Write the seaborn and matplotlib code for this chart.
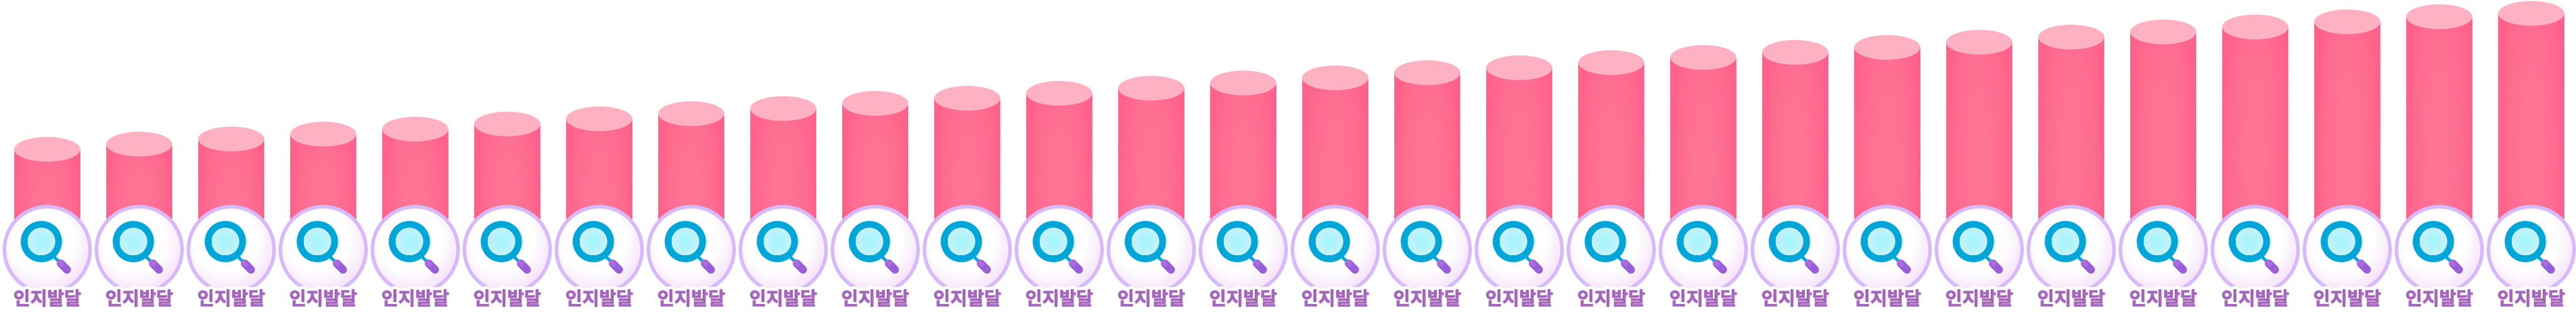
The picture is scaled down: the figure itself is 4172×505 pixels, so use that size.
import numpy as np
import pandas as pd
import matplotlib
matplotlib.use("Agg")
import matplotlib.pyplot as plt
import matplotlib.patheffects as pe
from matplotlib.patches import Ellipse
from matplotlib.colors import LinearSegmentedColormap
import seaborn as sns

# ---- data (height of each cylinder) ----
categories = [f"c{i:02d}" for i in range(28)]
tick_labels = ["인지발달"] * 28
values = [162.3, 170.7, 179.0, 187.0, 195.0, 203.3, 211.7,
          220.0, 228.3, 236.7, 245.0, 253.0, 261.3, 269.7,
          278.0, 286.3, 294.3, 302.7, 311.0, 319.3, 327.3,
          335.7, 344.0, 352.3, 360.3, 368.7, 377.0, 382.3]

# ---- colours ----
BODY_EDGE = "#FF628B"
BODY_MID = "#FF7596"
CAP = "#FFB1C4"
RING = "#D7B9FC"
ORB_IN = "#FFFFFF"
ORB_OUT = "#F8E6FB"
LENS_RING = "#00A6D8"
LENS_IN = "#A6F6FE"
LENS_OUT = "#C8F2F9"
HANDLE = "#9760D6"
HANDLE_TOP = "#AC6EDC"
TEXT = "#A566BD"

W, H = 4172, 505
BASE_PX = 404     # pixel row of value 0
PERIOD = 149.0    # pixels per category
FIRST = 76.5      # pixel column of the first category
BAR_W = 107 / PERIOD
CAP_H = 40
PXPT = 72 / 100

sns.set_style("white")
plt.rcParams["font.family"] = ["Noto Sans CJK KR", "DejaVu Sans"]

fig = plt.figure(figsize=(W / 100, H / 100), dpi=100, facecolor="white")
ax = fig.add_axes([0, 0, 1, 1])
ax.set_facecolor("white")

df = pd.DataFrame({"category": categories, "value": values})
sns.barplot(data=df, x="category", y="value", color=BODY_EDGE, saturation=1,
            width=BAR_W, ax=ax, zorder=1, linewidth=0, errorbar=None)

body_cmap = LinearSegmentedColormap.from_list("body", [BODY_MID, BODY_EDGE])
orb_cmap = LinearSegmentedColormap.from_list("orb", [ORB_IN, ORB_IN, ORB_OUT])
lens_cmap = LinearSegmentedColormap.from_list("lens", [LENS_IN, LENS_OUT])


def radial(n, cx=0.0, cy=0.0, sx=1.0, sy=1.0):
    yy, xx = np.mgrid[-1:1:n * 1j, -1:1:n * 1j]
    return np.clip(np.hypot((xx - cx) / sx, (yy - cy) / sy), 0, 1)


for i, (bar, v) in enumerate(zip(list(ax.patches), values)):
    left = bar.get_x()
    right = left + bar.get_width()
    # body shading: lighter in the middle, darker at the sides and the top
    grad = radial(200, 0, 0.15, 1.0, 1.9) ** 1.8
    im = ax.imshow(grad, extent=(left, right, 0, v), origin="upper", aspect="auto",
                   cmap=body_cmap, vmin=0, vmax=1, zorder=1.05)
    im.set_clip_path(bar)
    # top cap
    ax.add_patch(Ellipse((i, v), BAR_W, CAP_H, fc=CAP, ec="none", zorder=1.2))

    # icon, sized in pixels around the category centre
    def X(px):
        return i + px / PERIOD

    def Y(px):
        return -px

    def disc(dx, dy, r, **kw):
        e = Ellipse((X(dx), Y(dy)), 2 * r / PERIOD, 2 * r, **kw)
        ax.add_patch(e)
        return e

    def img(dx, dy, r, arr, cmap, z):
        clip = disc(dx, dy, r, fc="none", ec="none", zorder=z)
        m = ax.imshow(arr, extent=(X(dx - r), X(dx + r), Y(dy + r), Y(dy - r)),
                      origin="upper", aspect="auto", cmap=cmap, vmin=0, vmax=1, zorder=z)
        m.set_clip_path(clip)

    disc(0, 0, 72.3, fc=RING, ec="none", zorder=1.5)
    img(0, 0, 66.5, radial(160, -0.12, -0.2, 1.2, 1.2) ** 1.6, orb_cmap, 1.6)
    disc(-9.5, -13, 33.5, fc=LENS_RING, ec="none", zorder=1.7)
    img(-9.5, -13, 22.5, radial(80) ** 1.5, lens_cmap, 1.8)
    ax.plot([X(10), X(22)], [Y(11), Y(22)], color=LENS_RING, lw=5 * PXPT,
            solid_capstyle="butt", zorder=1.75)
    ax.plot([X(22), X(32)], [Y(22.5), Y(32.5)], color=HANDLE, lw=13 * PXPT,
            solid_capstyle="round", zorder=1.85)
    ax.plot([X(20), X(23)], [Y(20.5), Y(23.5)], color=HANDLE_TOP, lw=8 * PXPT,
            solid_capstyle="round", zorder=1.9)

ax.set_xticks(range(len(tick_labels)))
ax.set_xticklabels(tick_labels)
ax.set_axisbelow(False)
ax.tick_params(axis="x", length=0, pad=-25.5, labelsize=21.5, labelcolor=TEXT)
for t in ax.get_xticklabels():
    t.set_fontweight("bold")
    t.set_path_effects([pe.withStroke(linewidth=8, foreground="white"),
                        pe.withStroke(linewidth=0.6, foreground=TEXT)])
ax.set_yticks([])
ax.set_xlabel("")
ax.set_ylabel("")
sns.despine(ax=ax, left=True, bottom=True)

ax.set_xlim(-FIRST / PERIOD, (W - FIRST) / PERIOD)
ax.set_ylim(BASE_PX - H, BASE_PX)
fig.savefig("out.png", dpi=100, facecolor="white")
